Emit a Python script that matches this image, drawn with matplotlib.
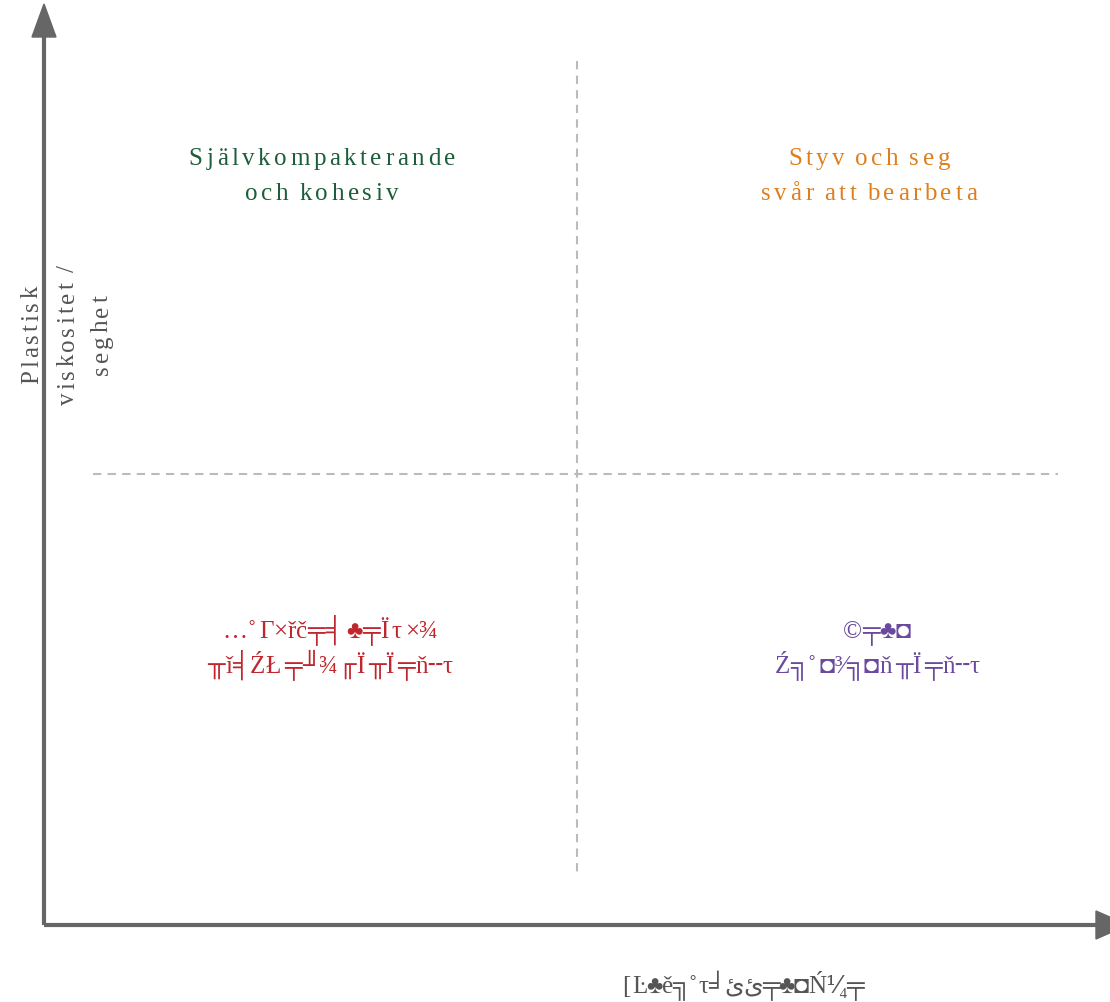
import matplotlib
matplotlib.use("Agg")
import matplotlib.pyplot as plt
from matplotlib.patches import Polygon
from matplotlib.font_manager import FontProperties

FAMILY = ['Liberation Serif', 'DejaVu Serif', 'DejaVu Sans', 'Noto Sans']
plt.rcParams['font.family'] = FAMILY

# Quadrant labels (top-left, top-right, bottom-left, bottom-right)
quadrant_labels = [
    ["Självkompakterande", "och kohesiv"],
    ["Styv och seg", "svår att bearbeta"],
    ["…˚ Γ×řč╤╡ ♣╤Ï τ ×¾", "╥ǐ╡ŹŁ ╤╜¾╓Ï ╥Ï ╤ň╌τ"],
    ["©╤♣◘", "Ź╗˚ ◘³⁄╗◘ň ╥Ï ╤ň╌τ"],
]
quadrant_colors = ["#1d5e3a", "#de7f1e", "#c0262d", "#6a4a9e"]
quadrant_cols = [0, 1, 0, 1]
quadrant_rows = [0, 0, 1, 1]
quadrant_tracking = [3.6, 3.6, 0.0, 0.0]
x_label = "[ Ŀ♣ě╗˚ τ╛ئئ╤♣◘Ń⅟₄╤"
y_label = ["Plastisk", "viskositet /", "seghet"]

W, H = 1110, 1003
fig = plt.figure(figsize=(W / 100, H / 100), dpi=100)
ax = fig.add_axes([0, 0, 1, 1])
ax.set_xlim(0, W)
ax.set_ylim(H, 0)
ax.axis("off")
renderer = fig.canvas.get_renderer()


def char_width(ch, fp):
    def w(s):
        t = ax.text(0, 0, s, fontproperties=fp)
        bb = t.get_window_extent(renderer)
        t.remove()
        return bb.width
    return w("|" + ch + "|") - w("||")


def tracked(x, y, s, color, size, track, vertical=False, space_scale=0.55):
    fp = FontProperties(family=FAMILY, size=size)
    widths = [char_width(c, fp) * (space_scale if c == " " else 1.0) for c in s]
    total = sum(widths) + track * (len(s) - 1)
    pos = -total / 2
    for c, wd in zip(s, widths):
        center = pos + wd / 2
        if c != " ":
            if vertical:
                ax.text(x, y - center, c, color=color, fontproperties=fp,
                        ha="center", va="baseline", rotation=90,
                        rotation_mode="anchor")
            else:
                ax.text(x + center, y, c, color=color, fontproperties=fp,
                        ha="center", va="baseline")
        pos += wd + track


axis_color = "#666666"
dash_color = "#bbbbbb"

# axes lines with arrowheads
ax.plot([44, 44], [926, 30], color=axis_color, lw=3, solid_capstyle="butt")
ax.plot([44, 1100], [926, 926], color=axis_color, lw=3, solid_capstyle="butt")
ax.add_patch(Polygon([[32, 38], [56, 38], [44, 5]], closed=True, color=axis_color))
ax.add_patch(Polygon([[1096, 912], [1096, 940], [1128, 926]], closed=True,
                     color=axis_color, clip_on=False))

# quadrant dividers
ax.plot([577, 577], [62, 878], color=dash_color, lw=1.5, ls=(0, (4, 3)))
ax.plot([93, 1058], [475, 475], color=dash_color, lw=1.5, ls=(0, (4, 3)))

col_x = [322, 869]
row_base = [165, 638]
line_gap = 35
for lines, c, ci, ri, tr in zip(quadrant_labels, quadrant_colors, quadrant_cols,
                                quadrant_rows, quadrant_tracking):
    for k, line in enumerate(lines):
        tracked(col_x[ci] + (8 if ri == 1 else 0), row_base[ri] + k * line_gap,
                line, c, 18, tr)

tracked(743, 993, x_label, "#555555", 18, -1.0)

y_x = [38, 74, 108]
for k, line in enumerate(y_label):
    tracked(y_x[k], 335, line, "#555555", 18, 3.0, vertical=True)

fig.savefig("out.png", dpi=100)
